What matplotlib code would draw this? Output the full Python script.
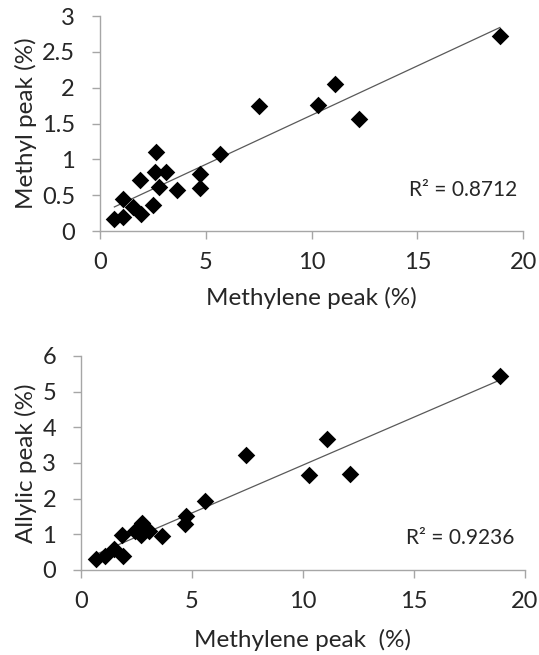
import numpy as np
import matplotlib
matplotlib.use("Agg")
import matplotlib.pyplot as plt

plt.rcParams['font.family'] = ['Lato', 'DejaVu Sans']

# Top panel: methylene vs methyl
methylene_top = [0.68, 1.10, 1.10, 1.54, 1.94, 1.91, 2.49, 2.66, 2.62, 2.79, 3.12, 3.62,
                 4.74, 4.74, 5.66, 7.50, 10.30, 11.13, 12.23, 18.90]
methyl = [0.17, 0.19, 0.45, 0.34, 0.24, 0.71, 0.36, 1.10, 0.82, 0.62, 0.82, 0.57,
          0.80, 0.60, 1.08, 1.74, 1.76, 2.05, 1.56, 2.72]

# Bottom panel: methylene vs allylic
methylene_bot = [0.66, 1.08, 1.50, 1.90, 1.86, 2.75, 2.43, 2.70, 3.08, 3.63,
                 4.73, 4.68, 5.60, 7.45, 10.26, 11.10, 12.13, 18.86]
allylic = [0.32, 0.39, 0.58, 0.38, 0.99, 1.32, 1.08, 0.99, 1.08, 0.96,
           1.50, 1.29, 1.94, 3.22, 2.67, 3.68, 2.68, 5.43]

r2_top = "R² = 0.8712"
r2_bot = "R² = 0.9236"

fig = plt.figure(figsize=(5.39, 6.55), dpi=100)
ax1 = fig.add_axes([0.1855, 0.6473, 0.785, 0.3282])
ax2 = fig.add_axes([0.1503, 0.1298, 0.8237, 0.3267])

grey = '#a6a6a6'
txt = '#262626'

def style(ax, x, y, ylim, yticks, yticklabels, xlabel, ylabel, r2, r2pos, xlpad, ylpad):
    ax.scatter(x, y, marker='D', s=80, color='black', zorder=3, linewidths=0)
    m, b = np.polyfit(x, y, 1)
    xs = np.array([min(x), max(x)])
    ax.plot(xs, m * xs + b, color='#595959', lw=0.9, zorder=2)
    ax.set_xlim(0, 20)
    ax.set_ylim(*ylim)
    ax.set_xticks([0, 5, 10, 15, 20])
    ax.set_yticks(yticks)
    ax.set_yticklabels(yticklabels)
    for s in ['top', 'right']:
        ax.spines[s].set_visible(False)
    for s in ['left', 'bottom']:
        ax.spines[s].set_color(grey)
        ax.spines[s].set_linewidth(1.0)
    ax.tick_params(axis='both', colors=grey, labelcolor=txt, labelsize=17,
                   length=6, width=1.0, direction='out')
    ax.tick_params(axis='x', pad=9)
    ax.tick_params(axis='y', pad=12)
    ax.set_xlabel(xlabel, fontsize=17.5, color=txt, labelpad=xlpad)
    ax.set_ylabel(ylabel, fontsize=17.5, color=txt, labelpad=ylpad)
    ax.text(r2pos[0], r2pos[1], r2, transform=ax.transAxes, fontsize=15,
            color=txt, ha='right', va='center')
    ax.patch.set_alpha(0)

style(ax1, methylene_top, methyl, (0, 3), [0, 0.5, 1, 1.5, 2, 2.5, 3],
      ['0', '0.5', '1', '1.5', '2', '2.5', '3'],
      'Methylene peak (%)', 'Methyl peak (%)', r2_top, (0.985, 0.19), 10, 3.5)
style(ax2, methylene_bot, allylic, (0, 6), [0, 1, 2, 3, 4, 5, 6],
      ['0', '1', '2', '3', '4', '5', '6'],
      'Methylene peak  (%)', 'Allylic peak (%)', r2_bot, (0.975, 0.15), 12, 3.5)

fig.savefig('out.png', dpi=100)
